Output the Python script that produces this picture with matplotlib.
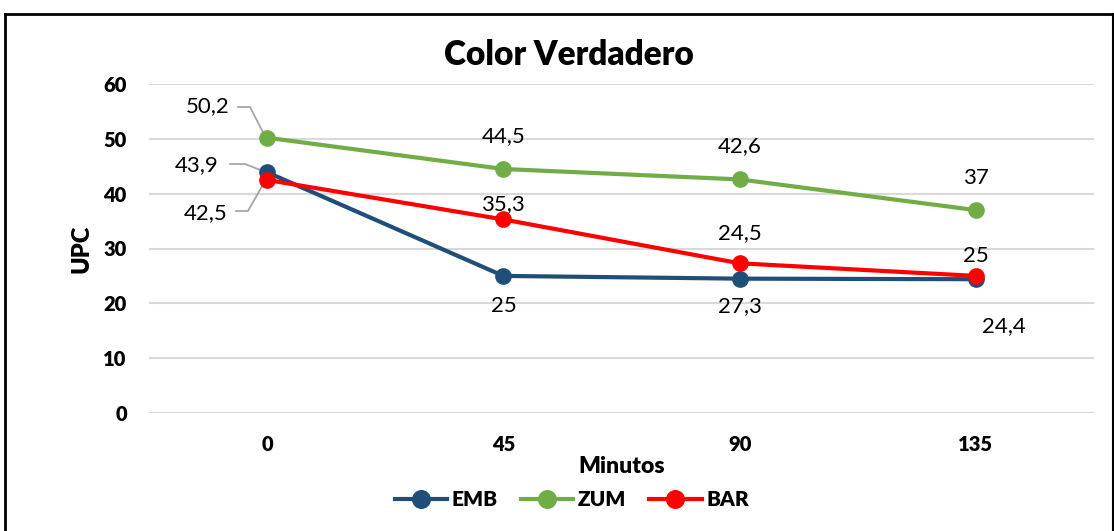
import matplotlib
matplotlib.use("Agg")
import matplotlib.pyplot as plt
from matplotlib.lines import Line2D

categories = ["0", "45", "90", "135"]
emb = [43.9, 25.0, 24.5, 24.4]
zum = [50.2, 44.5, 42.6, 37.0]
bar = [42.5, 35.3, 27.3, 25.0]
emb_labels = ["43,9", "25", "27,3", "24,4"]
zum_labels = ["50,2", "44,5", "42,6", "37"]
bar_labels = ["42,5", "35,3", "24,5", "25"]
yticks = [0, 10, 20, 30, 40, 50, 60]

plt.rcParams['font.family'] = ['Lato', 'DejaVu Sans']

W, H = 1114, 531
fig = plt.figure(figsize=(W / 100, H / 100), dpi=100)

def fx(px):
    return px / W

def fy(py):
    return 1 - py / H

# outer border
fig.add_artist(Line2D([fx(5), fx(5)], [fy(14), fy(540)], color='black', lw=2))
fig.add_artist(Line2D([fx(5), fx(1113)], [fy(14), fy(14)], color='black', lw=2))
fig.add_artist(Line2D([fx(1112.5), fx(1112.5)], [fy(14), fy(540)], color='black', lw=1.5))

ax = fig.add_axes([fx(149), fy(413), fx(1094) - fx(149), fy(84) - fy(413)])
x = list(range(len(categories)))
ax.set_xlim(-0.5, len(categories) - 0.5)
ax.set_ylim(0, 60)
ax.set_yticks(yticks)
ax.set_yticklabels([str(v) for v in yticks], fontsize=14.5, fontweight='heavy')
ax.set_xticks(x)
ax.set_xticklabels(categories, fontsize=14.5, fontweight='heavy')
ax.tick_params(length=0)
ax.tick_params(axis='y', pad=16)
ax.tick_params(axis='x', pad=16)
for s in ax.spines.values():
    s.set_visible(False)
ax.grid(axis='y', color='#D9D9D9', lw=1.5)
ax.set_axisbelow(True)

c_emb, c_zum, c_bar = '#1F4E79', '#70AD47', '#FF0000'
ax.plot(x, emb, color=c_emb, lw=3, marker='o', ms=11, label='EMB', zorder=3)
ax.plot(x, zum, color=c_zum, lw=3, marker='o', ms=11, label='ZUM', zorder=3)
ax.plot(x, bar, color=c_bar, lw=3, marker='o', ms=11, label='BAR', zorder=4)

lab_kw = dict(fontsize=16, color='black', ha='center', va='center')
# offsets in points (dx, dy)
zum_off = [(-43, 23), (0, 24), (0, 24), (0, 23)]
emb_off = [(-51, 5), (0, -22), (0, -20), (20, -34)]
bar_off = [(-44, -24), (0, 11), (0, 22), (0, 14)]
for vals, labs, offs in ((zum, zum_labels, zum_off), (emb, emb_labels, emb_off), (bar, bar_labels, bar_off)):
    for i, (v, t, o) in enumerate(zip(vals, labs, offs)):
        ax.annotate(t, (x[i], v), xytext=o, textcoords='offset points', zorder=6, **lab_kw)

inv = ax.transData.inverted()
def pix2data(px, py):
    return inv.transform((px, H - py))

def leader(points):
    pts = [pix2data(px, py) for px, py in points]
    ax.plot([p[0] for p in pts], [p[1] for p in pts], color='#A6A6A6', lw=1.3, zorder=2.5, clip_on=False)

fig.canvas.draw()
leader([(238, 107), (250, 107), (266, 138)])
leader([(230, 164), (245, 164), (263, 171)])
leader([(236, 211), (248, 211), (265, 181)])

ax.set_ylabel('UPC', fontsize=17, fontweight='heavy', labelpad=8)
ax.set_xlabel('Minutos', fontsize=16.5, fontweight='heavy', labelpad=1)
fig.text(fx(569), fy(55), 'Color Verdadero', fontsize=24, fontweight='heavy',
         ha='center', va='center')

leg = fig.legend(loc='center', bbox_to_anchor=(fx(572), fy(500)), ncol=3, frameon=False,
                 prop={'size': 15, 'weight': 'heavy'}, handlelength=2.5, columnspacing=1.1,
                 handletextpad=0.25, markerscale=1.15)

fig.savefig('out.png', dpi=100)
